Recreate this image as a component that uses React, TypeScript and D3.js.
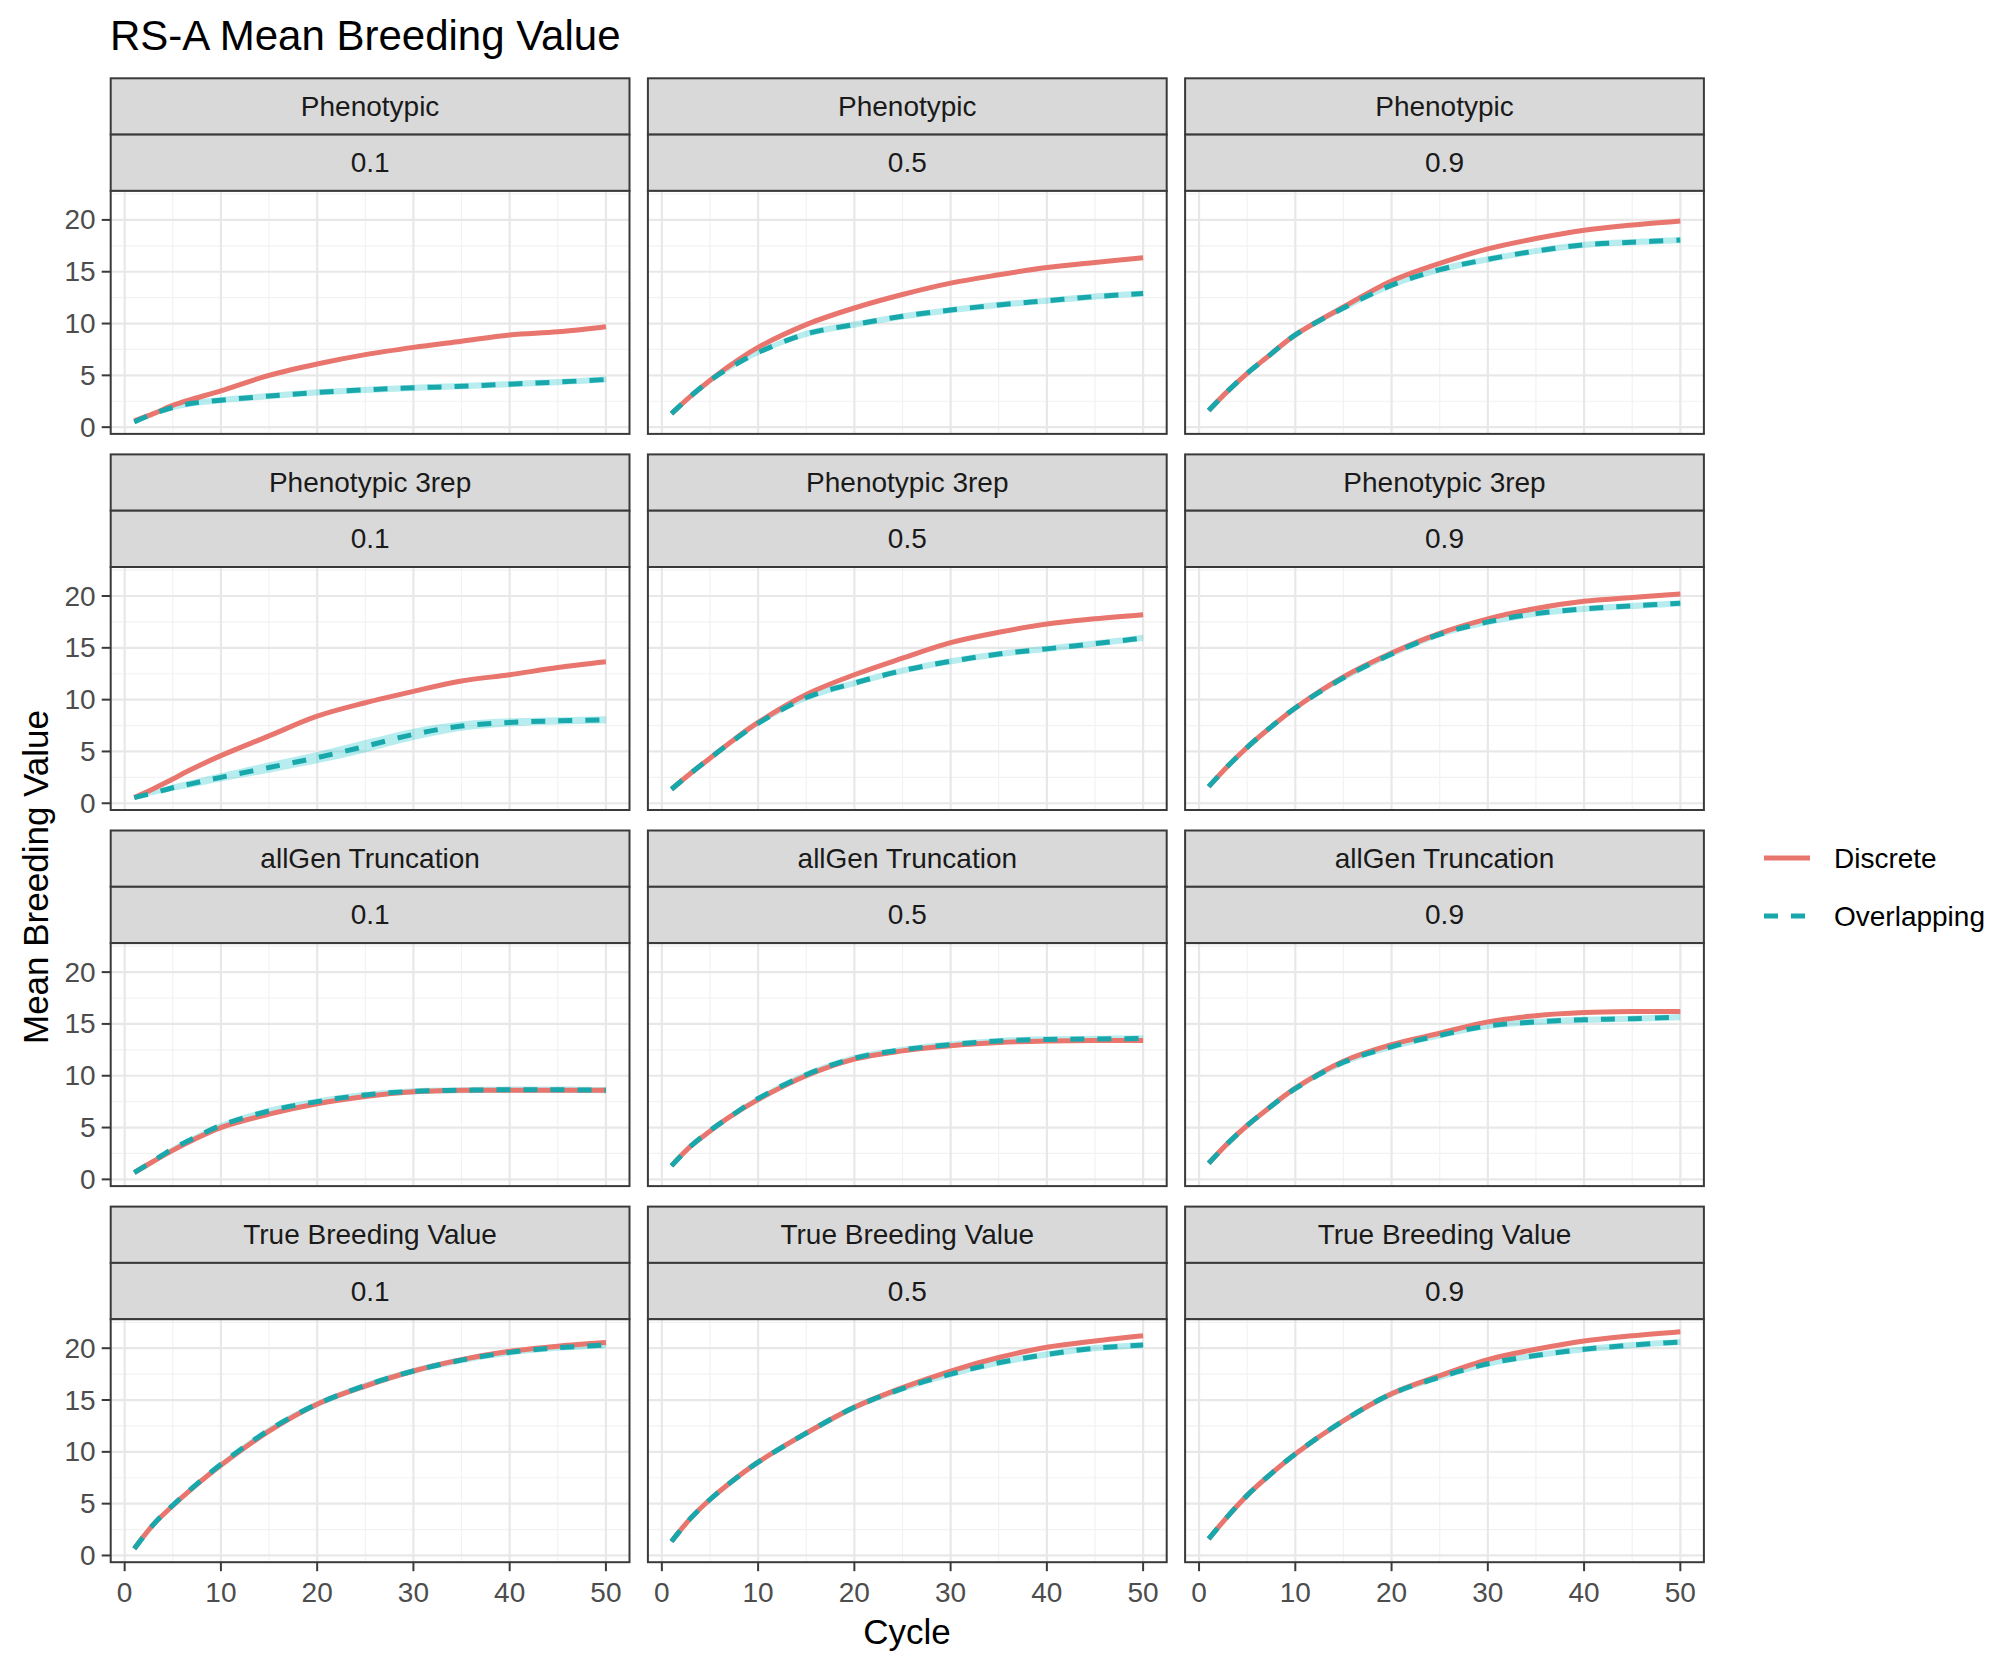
import React from 'react';
import * as d3 from 'd3';

// ---- data ----
const cycles = [1, 3, 5, 7, 10, 15, 20, 25, 30, 35, 40, 45, 50];
const strategies = ['Phenotypic', 'Phenotypic 3rep', 'allGen Truncation', 'True Breeding Value'];
const intensities = ['0.1', '0.5', '0.9'];
const seriesNames = ['Discrete', 'Overlapping'];
const xTicks = [0, 10, 20, 30, 40, 50];
const yTicks = [0, 5, 10, 15, 20];

const phen01Discrete = [0.6, 1.3, 2.1, 2.7, 3.5, 5.0, 6.1, 7.0, 7.7, 8.3, 8.9, 9.2, 9.7];
const phen01Overlap = [0.5, 1.3, 1.9, 2.3, 2.6, 3.0, 3.35, 3.6, 3.8, 3.95, 4.15, 4.35, 4.6];
const phen05Discrete = [1.3, 3.0, 4.5, 5.9, 7.7, 9.9, 11.5, 12.8, 13.9, 14.7, 15.4, 15.9, 16.35];
const phen05Overlap = [1.3, 3.0, 4.5, 5.7, 7.2, 9.0, 9.9, 10.7, 11.3, 11.8, 12.2, 12.6, 12.9];
const phen09Discrete = [1.6, 3.5, 5.2, 6.7, 8.9, 11.6, 14.1, 15.8, 17.2, 18.2, 19.0, 19.5, 19.9];
const phen09Overlap = [1.6, 3.5, 5.2, 6.7, 8.9, 11.5, 13.7, 15.2, 16.2, 17.0, 17.6, 17.85, 18.05];

const rep01Discrete = [0.55, 1.4, 2.35, 3.3, 4.6, 6.5, 8.4, 9.7, 10.8, 11.8, 12.4, 13.1, 13.65];
const rep01Overlap = [0.55, 1.0, 1.5, 1.9, 2.5, 3.45, 4.4, 5.5, 6.65, 7.45, 7.8, 7.95, 8.05];
const rep05Discrete = [1.35, 2.9, 4.35, 5.8, 7.8, 10.5, 12.4, 14.0, 15.5, 16.5, 17.3, 17.8, 18.2];
const rep05Overlap = [1.35, 2.9, 4.35, 5.75, 7.7, 10.2, 11.6, 12.8, 13.7, 14.4, 14.9, 15.4, 15.95];
const rep09Discrete = [1.6, 3.6, 5.4, 7.0, 9.2, 12.2, 14.5, 16.4, 17.8, 18.8, 19.5, 19.85, 20.2];
const rep09Overlap = [1.6, 3.6, 5.4, 7.0, 9.2, 12.1, 14.4, 16.3, 17.5, 18.3, 18.75, 19.05, 19.3];

const allgen01Discrete = [0.65, 1.75, 2.8, 3.75, 5.0, 6.3, 7.3, 8.0, 8.45, 8.6, 8.6, 8.6, 8.6];
const allgen01Overlap = [0.65, 1.8, 2.95, 3.9, 5.2, 6.6, 7.5, 8.15, 8.5, 8.6, 8.65, 8.65, 8.6];
const allgen05Discrete = [1.3, 3.2, 4.65, 6.0, 7.7, 10.0, 11.6, 12.4, 12.9, 13.2, 13.35, 13.4, 13.4];
const allgen05Overlap = [1.3, 3.2, 4.7, 6.0, 7.8, 10.1, 11.7, 12.5, 13.0, 13.35, 13.5, 13.55, 13.6];
const allgen09Discrete = [1.55, 3.5, 5.2, 6.7, 8.8, 11.4, 13.0, 14.1, 15.2, 15.8, 16.1, 16.2, 16.2];
const allgen09Overlap = [1.55, 3.5, 5.2, 6.7, 8.75, 11.3, 12.8, 13.9, 14.8, 15.2, 15.4, 15.5, 15.65];

const tbv01Discrete = [0.65, 3.0, 4.8, 6.45, 8.7, 12.0, 14.6, 16.35, 17.8, 18.9, 19.7, 20.2, 20.55];
const tbv01Overlap = [0.65, 3.0, 4.85, 6.5, 8.8, 12.1, 14.6, 16.4, 17.8, 18.85, 19.6, 20.05, 20.3];
const tbv05Discrete = [1.35, 3.6, 5.4, 6.95, 9.0, 11.8, 14.3, 16.2, 17.8, 19.1, 20.1, 20.7, 21.2];
const tbv05Overlap = [1.35, 3.6, 5.4, 6.95, 9.0, 11.8, 14.3, 16.1, 17.5, 18.6, 19.4, 20.0, 20.3];
const tbv09Discrete = [1.6, 3.8, 5.8, 7.5, 9.8, 13.0, 15.6, 17.35, 18.9, 19.9, 20.7, 21.2, 21.6];
const tbv09Overlap = [1.6, 3.8, 5.8, 7.5, 9.8, 13.0, 15.6, 17.2, 18.5, 19.3, 19.9, 20.3, 20.6];

// ribbon half-widths
const seSmall = [0.1, 0.15, 0.2, 0.2, 0.2, 0.2, 0.2, 0.2, 0.2, 0.2, 0.2, 0.2, 0.2];
const seOverlapPhen01 = [0.1, 0.2, 0.25, 0.3, 0.3, 0.3, 0.3, 0.3, 0.3, 0.3, 0.3, 0.3, 0.3];
const seOverlapRep01 = [0.1, 0.2, 0.3, 0.35, 0.4, 0.5, 0.55, 0.6, 0.55, 0.45, 0.4, 0.35, 0.35];
const seOverlapMid = [0.1, 0.15, 0.2, 0.25, 0.25, 0.3, 0.3, 0.3, 0.3, 0.3, 0.3, 0.3, 0.3];

const discreteGrid = [
  [phen01Discrete, phen05Discrete, phen09Discrete],
  [rep01Discrete, rep05Discrete, rep09Discrete],
  [allgen01Discrete, allgen05Discrete, allgen09Discrete],
  [tbv01Discrete, tbv05Discrete, tbv09Discrete],
];
const overlapGrid = [
  [phen01Overlap, phen05Overlap, phen09Overlap],
  [rep01Overlap, rep05Overlap, rep09Overlap],
  [allgen01Overlap, allgen05Overlap, allgen09Overlap],
  [tbv01Overlap, tbv05Overlap, tbv09Overlap],
];
const overlapSeGrid = [
  [seOverlapPhen01, seOverlapMid, seOverlapMid],
  [seOverlapRep01, seOverlapMid, seOverlapMid],
  [seOverlapMid, seOverlapMid, seOverlapMid],
  [seOverlapMid, seOverlapMid, seOverlapMid],
];

// ---- layout ----
const W = 2008;
const H = 1670;
const FONT = "'Liberation Sans', Arial, Helvetica, sans-serif";
const left0 = 110.7;
const colStride = 537.2;
const panelW = 518.8;
const top0 = 78.3;
const rowStride = 376.1;
const stripH = 56.3;
const panelH = 243;
const RED = '#E9766E';
const TEAL = '#18A8AB';
const RED_FILL = 'rgba(248,118,109,0.25)';
const TEAL_FILL = 'rgba(0,191,196,0.28)';
const BORDER = '#3a3a3a';

export default function App() {
  const x = d3.scaleLinear().domain([-1.45, 52.45]).range([0, panelW]);
  const y = d3.scaleLinear().domain([-0.65, 22.8]).range([panelH, 0]);
  const xMinor = [5, 15, 25, 35, 45];
  const yMinor = [2.5, 7.5, 12.5, 17.5, 22.5];

  const line = d3
    .line<[number, number]>()
    .x((d) => x(d[0]))
    .y((d) => y(d[1]))
    .curve(d3.curveCatmullRom.alpha(0.5));
  const area = d3
    .area<[number, number, number]>()
    .x((d) => x(d[0]))
    .y0((d) => y(d[1] - d[2]))
    .y1((d) => y(d[1] + d[2]))
    .curve(d3.curveCatmullRom.alpha(0.5));

  const panels: React.ReactNode[] = [];
  strategies.forEach((strat, r) => {
    intensities.forEach((inten, c) => {
      const px = left0 + c * colStride;
      const top = top0 + r * rowStride;
      const py = top + 2 * stripH;
      const disc = discreteGrid[r][c];
      const ovl = overlapGrid[r][c];
      const ovlSe = overlapSeGrid[r][c];
      const discPts = cycles.map((cy, i) => [cy, disc[i]] as [number, number]);
      const ovlPts = cycles.map((cy, i) => [cy, ovl[i]] as [number, number]);
      const discRib = cycles.map((cy, i) => [cy, disc[i], seSmall[i]] as [number, number, number]);
      const ovlRib = cycles.map((cy, i) => [cy, ovl[i], ovlSe[i]] as [number, number, number]);
      panels.push(
        <g key={`p-${r}-${c}`}>
          <rect x={px} y={top} width={panelW} height={stripH} fill="#D9D9D9" stroke={BORDER} strokeWidth={2} />
          <text x={px + panelW / 2} y={top + stripH / 2} textAnchor="middle" dominantBaseline="central"
            fontFamily={FONT} fontSize={28} fill="#1A1A1A">{strat}</text>
          <rect x={px} y={top + stripH} width={panelW} height={stripH} fill="#D9D9D9" stroke={BORDER} strokeWidth={2} />
          <text x={px + panelW / 2} y={top + stripH * 1.5} textAnchor="middle" dominantBaseline="central"
            fontFamily={FONT} fontSize={28} fill="#1A1A1A">{inten}</text>
          <g transform={`translate(${px},${py})`}>
            <rect x={0} y={0} width={panelW} height={panelH} fill="#FFFFFF" />
            {yMinor.map((v) => (
              <line key={`ym${v}`} x1={0} x2={panelW} y1={y(v)} y2={y(v)} stroke="#F2F2F2" strokeWidth={1.2} />
            ))}
            {xMinor.map((v) => (
              <line key={`xm${v}`} x1={x(v)} x2={x(v)} y1={0} y2={panelH} stroke="#F2F2F2" strokeWidth={1.2} />
            ))}
            {yTicks.map((v) => (
              <line key={`yM${v}`} x1={0} x2={panelW} y1={y(v)} y2={y(v)} stroke="#E8E8E8" strokeWidth={2.2} />
            ))}
            {xTicks.map((v) => (
              <line key={`xM${v}`} x1={x(v)} x2={x(v)} y1={0} y2={panelH} stroke="#E8E8E8" strokeWidth={2.2} />
            ))}
            <path d={area(discRib) || ''} fill={RED_FILL} stroke="none" />
            <path d={area(ovlRib) || ''} fill={TEAL_FILL} stroke="none" />
            <path d={line(discPts) || ''} fill="none" stroke={RED} strokeWidth={5} />
            <path d={line(ovlPts) || ''} fill="none" stroke={TEAL} strokeWidth={5} strokeDasharray="14 13" />
            <rect x={0} y={0} width={panelW} height={panelH} fill="none" stroke={BORDER} strokeWidth={2} />
            {c === 0 &&
              yTicks.map((v) => (
                <g key={`yt${v}`}>
                  <line x1={-9} x2={0} y1={y(v)} y2={y(v)} stroke={BORDER} strokeWidth={2} />
                  <text x={-15} y={y(v)} textAnchor="end" dominantBaseline="central" fontFamily={FONT}
                    fontSize={28} fill="#4D4D4D">{v}</text>
                </g>
              ))}
            {r === strategies.length - 1 &&
              xTicks.map((v) => (
                <g key={`xt${v}`}>
                  <line x1={x(v)} x2={x(v)} y1={panelH} y2={panelH + 9} stroke={BORDER} strokeWidth={2} />
                  <text x={x(v)} y={panelH + 40} textAnchor="middle" fontFamily={FONT} fontSize={28}
                    fill="#4D4D4D">{v}</text>
                </g>
              ))}
          </g>
        </g>
      );
    });
  });

  const legendY = [858, 916];
  const legendColors = [RED, TEAL];

  return (
    <svg width={W} height={H} viewBox={`0 0 ${W} ${H}`}
      style={{ position: 'absolute', left: 0, top: 0, display: 'block', background: '#FFFFFF' }}>
      <rect x={0} y={0} width={W} height={H} fill="#FFFFFF" />
      <text x={110} y={50} fontFamily={FONT} fontSize={42} fill="#000000">RS-A Mean Breeding Value</text>
      {panels}
      <text x={907} y={1644} textAnchor="middle" fontFamily={FONT} fontSize={35} fill="#000000">Cycle</text>
      <text transform="translate(48,877) rotate(-90)" textAnchor="middle" fontFamily={FONT} fontSize={35}
        fill="#000000">Mean Breeding Value</text>
      {seriesNames.map((name, i) => (
        <g key={name}>
          <line x1={1764} x2={1810} y1={legendY[i]} y2={legendY[i]} stroke={legendColors[i]} strokeWidth={5}
            strokeDasharray={i === 1 ? '14 13' : undefined} />
          <text x={1834} y={legendY[i]} dominantBaseline="central" fontFamily={FONT} fontSize={28}
            fill="#000000">{name}</text>
        </g>
      ))}
    </svg>
  );
}
